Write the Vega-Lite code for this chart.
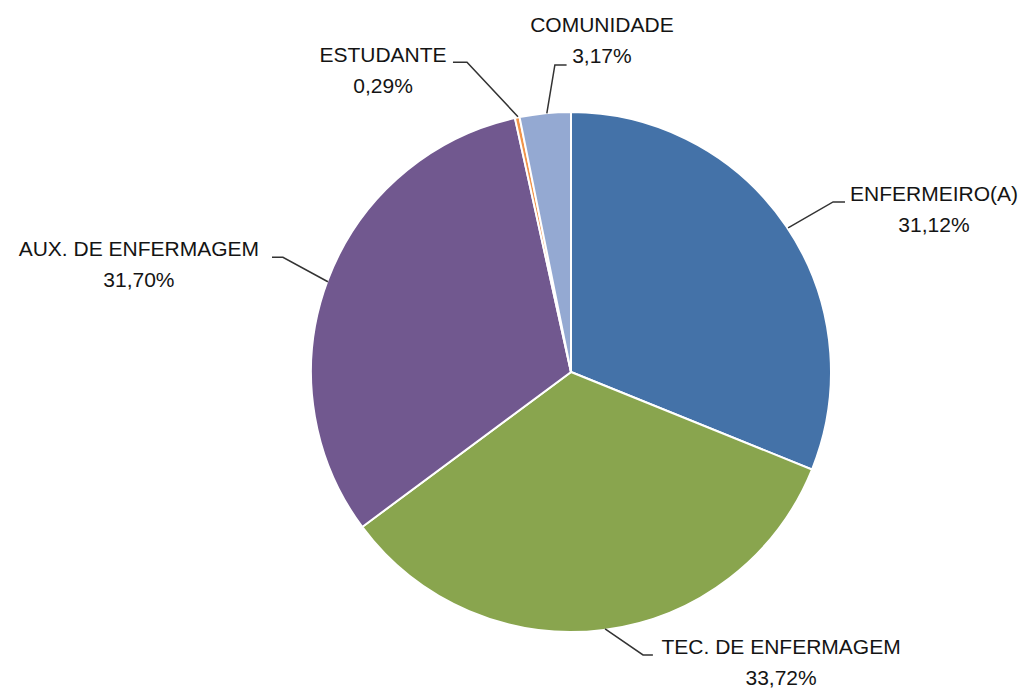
{
  "$schema": "https://vega.github.io/schema/vega-lite/v6.json",
  "width": 900,
  "height": 634,
  "autosize": {"type": "none"},
  "padding": {"left": 121, "top": 55, "right": 0, "bottom": 0},
  "background": "white",
  "config": {"view": {"stroke": null}},
  "datasets": {
    "fatias": [
      {"categoria": "ENFERMEIRO(A)", "valor": 31.12, "ordem": 1, "rotulo": "ENFERMEIRO(A)\n31,12%", "lx": 139.6, "ly": 65.8},
      {"categoria": "TEC. DE ENFERMAGEM", "valor": 33.72, "ordem": 2, "rotulo": "TEC. DE ENFERMAGEM\n33,72%", "lx": 80.8, "ly": -108.5},
      {"categoria": "AUX. DE ENFERMAGEM", "valor": 31.70, "ordem": 3, "rotulo": "AUX. DE ENFERMAGEM\n31,70%", "lx": -166.2, "ly": 44.6},
      {"categoria": "ESTUDANTE", "valor": 0.29, "ordem": 4, "rotulo": "ESTUDANTE\n0,29%", "lx": -72.3, "ly": 119.2},
      {"categoria": "COMUNIDADE", "valor": 3.17, "ordem": 5, "rotulo": "COMUNIDADE\n3,17%", "lx": 11.9, "ly": 130.8}
    ],
    "guias": [
      {"categoria": "ENFERMEIRO(A)", "ponto": 1, "gx": 83.5, "gy": 55.4},
      {"categoria": "ENFERMEIRO(A)", "ponto": 2, "gx": 100.8, "gy": 65.4},
      {"categoria": "ENFERMEIRO(A)", "ponto": 3, "gx": 105.4, "gy": 65.4},
      {"categoria": "AUX. DE ENFERMAGEM", "ponto": 1, "gx": -93.5, "gy": 34.7},
      {"categoria": "AUX. DE ENFERMAGEM", "ponto": 2, "gx": -110.8, "gy": 44.1},
      {"categoria": "AUX. DE ENFERMAGEM", "ponto": 3, "gx": -115.0, "gy": 44.1},
      {"categoria": "TEC. DE ENFERMAGEM", "ponto": 1, "gx": 13.1, "gy": -98.8},
      {"categoria": "TEC. DE ENFERMAGEM", "ponto": 2, "gx": 27.7, "gy": -108.8},
      {"categoria": "TEC. DE ENFERMAGEM", "ponto": 3, "gx": 31.5, "gy": -108.8},
      {"categoria": "ESTUDANTE", "ponto": 1, "gx": -20.4, "gy": 98.2},
      {"categoria": "ESTUDANTE", "ponto": 2, "gx": -40.0, "gy": 119.1},
      {"categoria": "ESTUDANTE", "ponto": 3, "gx": -45.4, "gy": 119.1},
      {"categoria": "COMUNIDADE", "ponto": 1, "gx": -9.3, "gy": 99.5},
      {"categoria": "COMUNIDADE", "ponto": 2, "gx": -6.2, "gy": 118.1},
      {"categoria": "COMUNIDADE", "ponto": 3, "gx": -1.7, "gy": 118.1}
    ]
  },
  "layer": [
    {
      "data": {"name": "fatias"},
      "mark": {"type": "arc", "outerRadius": 260, "stroke": "white", "strokeWidth": 2},
      "encoding": {
        "theta": {"field": "valor", "type": "quantitative", "stack": true},
        "order": {"field": "ordem", "type": "quantitative", "sort": "ascending"},
        "color": {
          "field": "categoria",
          "type": "nominal",
          "scale": {
            "domain": ["ENFERMEIRO(A)", "TEC. DE ENFERMAGEM", "AUX. DE ENFERMAGEM", "ESTUDANTE", "COMUNIDADE"],
            "range": ["#4472A8", "#89A54E", "#71588F", "#F0944A", "#94A9D2"]
          },
          "legend": null
        }
      }
    },
    {
      "data": {"name": "guias"},
      "mark": {"type": "line", "color": "#333333", "strokeWidth": 1.5, "clip": false},
      "encoding": {
        "x": {"field": "gx", "type": "quantitative", "scale": {"domain": [-173.077, 173.077], "nice": false, "zero": false}, "axis": null},
        "y": {"field": "gy", "type": "quantitative", "scale": {"domain": [-121.923, 121.923], "nice": false, "zero": false}, "axis": null},
        "detail": {"field": "categoria", "type": "nominal"},
        "order": {"field": "ponto", "type": "quantitative"}
      }
    },
    {
      "data": {"name": "fatias"},
      "mark": {"type": "text", "font": "Liberation Sans", "fontSize": 21, "color": "#141414", "align": "center", "baseline": "alphabetic", "lineBreak": "\n", "lineHeight": 31, "clip": false},
      "encoding": {
        "x": {"field": "lx", "type": "quantitative", "scale": {"domain": [-173.077, 173.077], "nice": false, "zero": false}, "axis": null},
        "y": {"field": "ly", "type": "quantitative", "scale": {"domain": [-121.923, 121.923], "nice": false, "zero": false}, "axis": null},
        "text": {"field": "rotulo", "type": "nominal"}
      }
    }
  ]
}
